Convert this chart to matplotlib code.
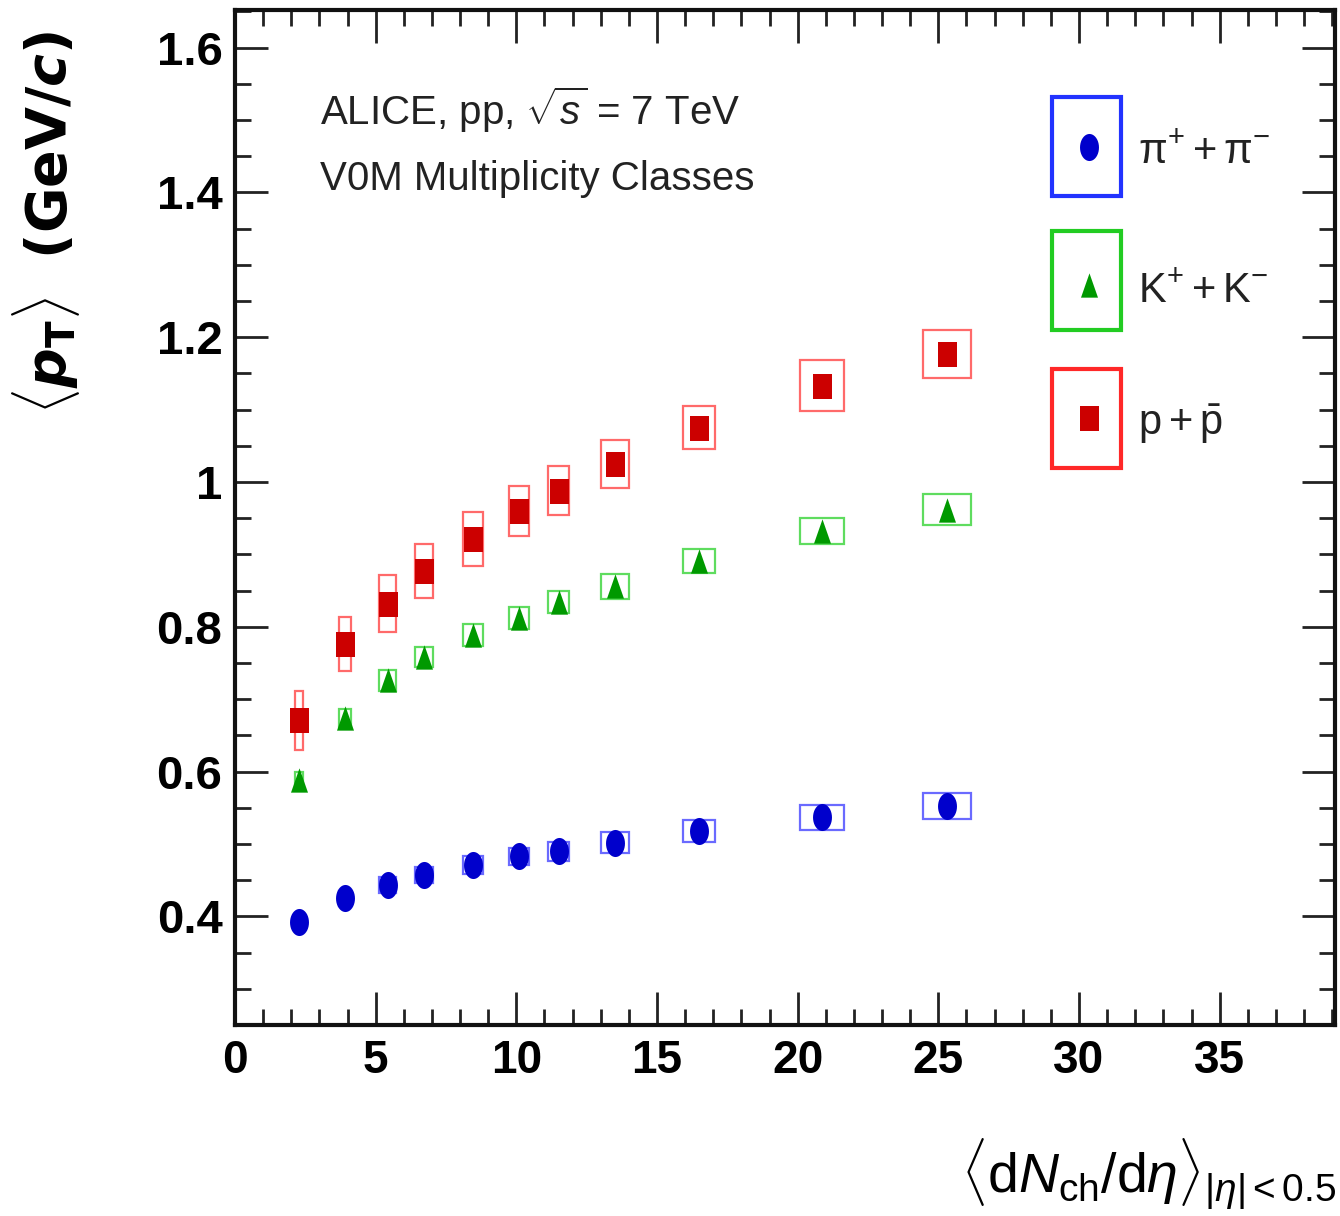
import matplotlib
matplotlib.use("Agg")
import matplotlib.pyplot as plt
from matplotlib.patches import Rectangle
import numpy as np

# Charged-particle multiplicity per V0M class
dndeta = [2.27, 3.91, 5.43, 6.71, 8.45, 10.1, 11.5, 13.5, 16.5, 20.85, 25.3]
dndeta_sys = [0.14, 0.23, 0.30, 0.32, 0.35, 0.36, 0.36, 0.50, 0.57, 0.78, 0.85]

# Mean pT values (GeV/c) and systematic uncertainties
pion_mpt = [0.392, 0.425, 0.444, 0.457, 0.471, 0.483, 0.490, 0.502, 0.518, 0.537, 0.552]
pion_sys = [0.010, 0.010, 0.011, 0.011, 0.012, 0.012, 0.013, 0.014, 0.015, 0.017, 0.018]
kaon_mpt = [0.588, 0.674, 0.726, 0.758, 0.789, 0.812, 0.834, 0.856, 0.891, 0.932, 0.962]
kaon_sys = [0.012, 0.013, 0.014, 0.014, 0.015, 0.015, 0.015, 0.017, 0.017, 0.018, 0.022]
proton_mpt = [0.671, 0.776, 0.832, 0.877, 0.921, 0.960, 0.988, 1.025, 1.075, 1.133, 1.177]
proton_sys = [0.041, 0.037, 0.039, 0.037, 0.037, 0.035, 0.034, 0.033, 0.030, 0.035, 0.033]

species = [r"$\mathrm{\pi}^{+} + \mathrm{\pi}^{-}$", r"$\mathrm{K}^{+} + \mathrm{K}^{-}$",
	r"$\mathrm{p} + \bar{\mathrm{p}}$"]

yticks = [0.4, 0.6, 0.8, 1.0, 1.2, 1.4, 1.6]
ytick_labels = ["0.4", "0.6", "0.8", "1", "1.2", "1.4", "1.6"]
xticks = [0, 5, 10, 15, 20, 25, 30, 35]

sans = ["Liberation Sans", "DejaVu Sans"]

plt.rcParams["mathtext.fontset"] = "custom"
plt.rcParams["mathtext.rm"] = "Liberation Sans"
plt.rcParams["mathtext.it"] = "Liberation Sans:italic"
plt.rcParams["mathtext.bf"] = "DejaVu Sans:bold"
plt.rcParams["mathtext.bfit"] = "DejaVu Sans:bold:italic"

# Stretched markers (the original picture is taller than wide)
t = np.linspace(0, 2 * np.pi, 41)
circle_m = np.column_stack([0.35 * np.cos(t), 0.5 * np.sin(t)])
square_m = [(-0.38, -0.5), (0.38, -0.5), (0.38, 0.5), (-0.38, 0.5), (-0.38, -0.5)]
tri_m = [(-0.35, -0.5), (0.35, -0.5), (0.0, 0.5), (-0.35, -0.5)]

series = [
	(pion_mpt, pion_sys, circle_m, 19.5, "#0000cc", "#6a6aff", "#2233ff"),
	(kaon_mpt, kaon_sys, tri_m, 17.5, "#009900", "#5fdc5f", "#22cc22"),
	(proton_mpt, proton_sys, square_m, 18, "#cc0000", "#ff6a6a", "#ff2828"),
]


def main():
	fig = plt.figure(figsize=(13.4, 12.16), dpi=100)
	ax = fig.add_axes([235 / 1340, 1 - 1025 / 1216, 1100 / 1340, 1015 / 1216])

	for mpt, sys, marker, ms, col, boxcol, legcol in series:
		# systematic boxes
		for x, dx, y, dy in zip(dndeta, dndeta_sys, mpt, sys):
			ax.add_patch(Rectangle((x - dx, y - dy), 2 * dx, 2 * dy, fill=False,
				edgecolor=boxcol, linewidth=1.6, zorder=2))
		ax.plot(dndeta, mpt, linestyle="none", marker=marker, markersize=ms,
			color=col, markeredgewidth=0, zorder=3)

	ax.set_xlim(0, 39.1)
	ax.set_ylim(0.252, 1.652)
	ax.set_xticks(xticks)
	ax.set_xticks(np.arange(0, 40, 1), minor=True)
	ax.set_yticks(yticks)
	ax.set_yticklabels(ytick_labels)
	ax.set_yticks(np.arange(0.25, 1.66, 0.05), minor=True)

	ax.tick_params(which="both", direction="in", top=True, right=True, width=2, color="#222222")
	ax.tick_params(which="major", length=24)
	ax.tick_params(which="minor", length=11.5)
	ax.tick_params(axis="x", pad=10)
	ax.tick_params(axis="y", pad=9)
	for lab in ax.get_xticklabels():
		lab.set_fontfamily(sans)
		lab.set_fontweight("bold")
		lab.set_fontsize(33)
	for lab in ax.get_yticklabels():
		lab.set_fontfamily(sans)
		lab.set_fontweight("bold")
		lab.set_fontsize(34)
	for sp in ax.spines.values():
		sp.set_linewidth(3)
		sp.set_color("#111111")

	# Header text
	ax.text(0.077, 0.887, r"ALICE, pp, $\sqrt{s}$ = 7 TeV", transform=ax.transAxes,
		fontsize=29, family=sans, color="#222222", va="baseline")
	ax.text(0.077, 0.823, "V0M Multiplicity Classes", transform=ax.transAxes,
		fontsize=29, family=sans, color="#222222", va="baseline")

	# Legend made of coloured frames
	box_bottoms = [0.817, 0.685, 0.549]
	marker_ys = [0.865, 0.729, 0.598]
	text_ys = [0.849, 0.712, 0.581]
	for i, (mpt, sys, marker, ms, col, boxcol, legcol) in enumerate(series):
		ax.add_patch(Rectangle((0.743, box_bottoms[i]), 0.0625, 0.097, transform=ax.transAxes,
			fill=False, edgecolor=legcol, linewidth=3, zorder=4))
		ax.plot([0.776], [marker_ys[i]], transform=ax.transAxes, marker=marker,
			markersize=ms, color=col, markeredgewidth=0, linestyle="none", zorder=5)
		ax.text(0.821, text_ys[i], species[i], transform=ax.transAxes, fontsize=30,
			family=sans, color="#222222", va="baseline")

	# Axis titles
	fig.text(46 / 1340, 1 - 222 / 1216,
		r"$\langle\boldsymbol{p}_{\mathbf{T}}\rangle$  $\mathbf{(GeV/}\boldsymbol{c}\mathbf{)}$",
		rotation=90, ha="center", va="center", fontsize=40)
	fig.text(1336 / 1340, 0.004,
		r"$\langle\mathrm{d}N_{\mathrm{ch}}/\mathrm{d}\eta\rangle_{|\eta| < 0.5}$",
		ha="right", va="bottom", fontsize=40, family=sans)

	fig.savefig("out.png", dpi=100)


if __name__ == "__main__":
	main()
